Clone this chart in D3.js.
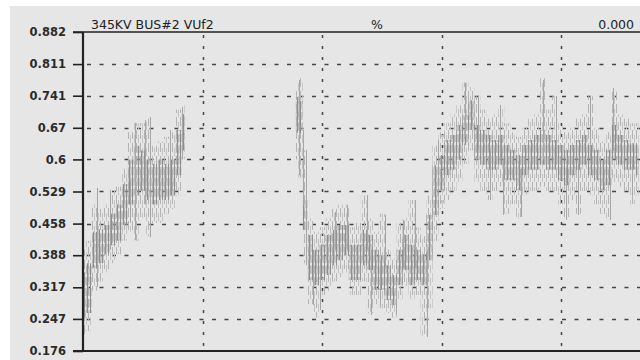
<!DOCTYPE html>
<html>
<head>
<meta charset="utf-8">
<script src="https://cdn.jsdelivr.net/npm/d3@7"></script>
<style>
  html, body { margin: 0; padding: 0; background: #ffffff; }
  svg { display: block; }
</style>
</head>
<body>
<svg id="chart" width="640" height="360"></svg>
<script>
// Recorder trace: 345KV BUS#2 VUf2 (%), sampled envelope per time bin.
// Y tick labels as printed on the recorder grid.
const yTicks = [0.176, 0.247, 0.317, 0.388, 0.458, 0.529, 0.6, 0.67, 0.741, 0.811, 0.882, 0.952];
const xGrid = [1, 2, 3, 4];

// First burst of samples (time in grid divisions)
const tA = [0, 0.05, 0.1, 0.15, 0.2, 0.25, 0.3, 0.35, 0.4, 0.45, 0.5, 0.55, 0.6, 0.65, 0.7, 0.75, 0.8, 0.85];
const coreLoA = [0.25, 0.26, 0.36, 0.37, 0.39, 0.41, 0.42, 0.455, 0.50, 0.52, 0.53, 0.51, 0.50, 0.51, 0.51, 0.52, 0.565, 0.62];
const coreHiA = [0.35, 0.37, 0.44, 0.445, 0.455, 0.48, 0.50, 0.545, 0.60, 0.63, 0.62, 0.60, 0.59, 0.60, 0.59, 0.60, 0.665, 0.70];
const outerLoA = [0.21, 0.22, 0.31, 0.33, 0.35, 0.37, 0.39, 0.42, 0.44, 0.42, 0.47, 0.43, 0.46, 0.46, 0.48, 0.49, 0.52, 0.60];
const outerHiA = [0.40, 0.42, 0.50, 0.49, 0.50, 0.53, 0.54, 0.58, 0.66, 0.68, 0.68, 0.69, 0.63, 0.64, 0.65, 0.66, 0.71, 0.72];

// Second burst of samples
const tB = [1.78, 1.82, 1.86, 1.9, 1.95, 2.0, 2.05, 2.1, 2.15, 2.2, 2.25, 2.3, 2.35, 2.4, 2.45, 2.5, 2.55, 2.6, 2.65, 2.7, 2.75,
            2.8, 2.85, 2.9, 2.95, 3.0, 3.05, 3.1, 3.15, 3.2, 3.25, 3.3, 3.35, 3.4, 3.45, 3.5, 3.55, 3.6, 3.65, 3.7, 3.75,
            3.8, 3.85, 3.9, 3.95, 4.0, 4.05, 4.1, 4.15, 4.2, 4.25, 4.3, 4.35, 4.4, 4.45, 4.5, 4.55, 4.6, 4.65];
const coreLoB = [0.659, 0.659, 0.444, 0.333, 0.322, 0.333, 0.344, 0.366, 0.377, 0.388, 0.333, 0.333, 0.366, 0.355, 0.311, 0.311, 0.289, 0.278, 0.322, 0.355, 0.322,
                 0.333, 0.322, 0.377, 0.477, 0.532, 0.565, 0.577, 0.599, 0.632, 0.665, 0.599, 0.588, 0.577, 0.577, 0.588, 0.554, 0.554, 0.532, 0.565, 0.577,
                 0.577, 0.588, 0.577, 0.577, 0.554, 0.543, 0.565, 0.577, 0.588, 0.565, 0.554, 0.532, 0.543, 0.599, 0.588, 0.577, 0.577, 0.565];
const coreHiB = [0.738, 0.730, 0.510, 0.433, 0.400, 0.411, 0.433, 0.444, 0.455, 0.455, 0.411, 0.411, 0.444, 0.433, 0.400, 0.388, 0.366, 0.344, 0.400, 0.433, 0.411,
                 0.400, 0.390, 0.477, 0.587, 0.610, 0.643, 0.654, 0.676, 0.698, 0.731, 0.676, 0.665, 0.654, 0.643, 0.654, 0.632, 0.621, 0.610, 0.632, 0.643,
                 0.654, 0.665, 0.654, 0.643, 0.632, 0.621, 0.632, 0.643, 0.654, 0.632, 0.621, 0.599, 0.621, 0.676, 0.654, 0.643, 0.636, 0.636];
const outerLoB = [0.60, 0.56, 0.37, 0.28, 0.25, 0.30, 0.31, 0.33, 0.34, 0.35, 0.30, 0.30, 0.33, 0.26, 0.28, 0.27, 0.26, 0.25, 0.29, 0.32, 0.29,
                  0.30, 0.21, 0.27, 0.42, 0.49, 0.51, 0.53, 0.55, 0.59, 0.62, 0.55, 0.53, 0.51, 0.53, 0.54, 0.48, 0.50, 0.47, 0.52, 0.53,
                  0.53, 0.54, 0.53, 0.53, 0.50, 0.47, 0.51, 0.48, 0.53, 0.52, 0.50, 0.48, 0.47, 0.55, 0.54, 0.53, 0.50, 0.52];
const outerHiB = [0.76, 0.78, 0.62, 0.47, 0.44, 0.45, 0.47, 0.49, 0.50, 0.50, 0.45, 0.46, 0.52, 0.47, 0.44, 0.48, 0.40, 0.38, 0.46, 0.47, 0.51,
                  0.45, 0.43, 0.52, 0.63, 0.66, 0.68, 0.70, 0.72, 0.77, 0.76, 0.74, 0.71, 0.69, 0.70, 0.72, 0.68, 0.66, 0.65, 0.67, 0.69,
                  0.70, 0.78, 0.71, 0.74, 0.68, 0.66, 0.67, 0.69, 0.70, 0.74, 0.67, 0.64, 0.66, 0.75, 0.70, 0.69, 0.68, 0.68];

// Isolated excursions: time, low, high
const spikeT  = [0.117, 0.226, 0.393, 0.435, 0.519, 0.561, 0.728, 0.828,
                 1.808, 1.841, 1.866, 1.925, 1.983, 2.109, 2.209, 2.377, 2.41, 2.485, 2.527, 2.619, 2.678, 2.778, 2.879, 2.971,
                 3.197, 3.305, 3.406, 3.49, 3.515, 3.665, 3.849, 3.958, 4.042, 4.142, 4.243, 4.41, 4.435, 4.594];
const spikeLo = [0.318, 0.40, 0.46, 0.422, 0.50, 0.428, 0.52, 0.60,
                 0.565, 0.499, 0.366, 0.278, 0.267, 0.40, 0.40, 0.40, 0.256, 0.278, 0.36, 0.256, 0.36, 0.36, 0.207, 0.52,
                 0.65, 0.62, 0.51, 0.60, 0.477, 0.473, 0.60, 0.60, 0.466, 0.477, 0.60, 0.466, 0.62, 0.52];
const spikeHi = [0.537, 0.532, 0.554, 0.681, 0.687, 0.694, 0.665, 0.716,
                 0.776, 0.665, 0.621, 0.40, 0.38, 0.484, 0.499, 0.521, 0.40, 0.36, 0.477, 0.33, 0.466, 0.51, 0.40, 0.643,
                 0.77, 0.742, 0.62, 0.72, 0.60, 0.58, 0.776, 0.74, 0.58, 0.59, 0.74, 0.56, 0.758, 0.60];

const svg = d3.select("#chart");
const W = 640, H = 360;
const plot = { left: 83, right: 640, top: 32, bottom: 351 };

const x = d3.scaleLinear().domain([0, 4.661]).range([plot.left, plot.right]);
const y = d3.scaleLinear().domain([0.176, 0.882]).range([plot.bottom, plot.top]);

// Paper background
svg.append("rect").attr("width", W).attr("height", H).attr("fill", "#ffffff");
svg.append("rect").attr("x", 10).attr("y", 6).attr("width", W - 10).attr("height", H - 6).attr("fill", "#e6e6e6");

// Hatch patterns that give the trace its pen-stroke texture
const defs = svg.append("defs");
const core = defs.append("pattern").attr("id", "coreHatch").attr("patternUnits", "userSpaceOnUse")
  .attr("width", 3).attr("height", 11);
core.append("rect").attr("x", 0).attr("y", 0).attr("width", 1).attr("height", 11).attr("fill", "#8e8e8e");
core.append("rect").attr("x", 1.5).attr("y", 2).attr("width", 1).attr("height", 8).attr("fill", "#a9a9a9");
const outer = defs.append("pattern").attr("id", "outerHatch").attr("patternUnits", "userSpaceOnUse")
  .attr("width", 4).attr("height", 13);
outer.append("rect").attr("x", 0).attr("y", 0).attr("width", 1).attr("height", 9).attr("fill", "#b4b4b4");
outer.append("rect").attr("x", 2).attr("y", 5).attr("width", 1).attr("height", 8).attr("fill", "#c4c4c4");

const clip = defs.append("clipPath").attr("id", "plotClip");
clip.append("rect").attr("x", plot.left).attr("y", plot.top).attr("width", plot.right - plot.left).attr("height", plot.bottom - plot.top);

// Grid: horizontal dashed rules at every tick, vertical dotted rules every division
const grid = svg.append("g");
grid.selectAll("line.h").data(yTicks.filter(v => v > 0.176 && v < 0.882)).join("line")
  .attr("x1", plot.left + 4).attr("x2", plot.right)
  .attr("y1", d => Math.round(y(d)) + 0.5).attr("y2", d => Math.round(y(d)) + 0.5)
  .attr("stroke", "#444").attr("stroke-width", 1.6).attr("stroke-dasharray", "4,8.5");
grid.selectAll("line.v").data(xGrid).join("line")
  .attr("x1", d => Math.round(x(d)) + 0.5).attr("x2", d => Math.round(x(d)) + 0.5)
  .attr("y1", plot.top + 3).attr("y2", plot.bottom)
  .attr("stroke", "#444").attr("stroke-width", 1.5).attr("stroke-dasharray", "3,8");

// Trace layers
const traceG = svg.append("g").attr("clip-path", "url(#plotClip)");
function band(ts, lo, hi) {
  return ts.map((t, i) => ({ t, lo: lo[i], hi: hi[i] }));
}
const area = d3.area().curve(d3.curveStep)
  .x(d => x(d.t)).y0(d => y(d.lo)).y1(d => y(d.hi));

[[tA, outerLoA, outerHiA], [tB, outerLoB, outerHiB]].forEach(([t, lo, hi]) => {
  traceG.append("path").datum(band(t, lo, hi)).attr("d", area).attr("fill", "url(#outerHatch)");
});
[[tA, coreLoA, coreHiA], [tB, coreLoB, coreHiB]].forEach(([t, lo, hi]) => {
  traceG.append("path").datum(band(t, lo, hi)).attr("d", area).attr("fill", "url(#coreHatch)");
});
traceG.selectAll("line.spike").data(spikeT.map((t, i) => ({ t, lo: spikeLo[i], hi: spikeHi[i] }))).join("line")
  .attr("x1", d => Math.round(x(d.t)) + 0.5).attr("x2", d => Math.round(x(d.t)) + 0.5)
  .attr("y1", d => y(d.lo)).attr("y2", d => y(d.hi))
  .attr("stroke", "#a6a6a6").attr("stroke-width", 1);

// Frame: left axis, top and bottom rules
const axisG = svg.append("g");
axisG.append("line").attr("x1", plot.left).attr("x2", plot.left).attr("y1", plot.top).attr("y2", plot.bottom)
  .attr("stroke", "#222").attr("stroke-width", 2.2);
axisG.append("line").attr("x1", plot.left - 10).attr("x2", plot.right).attr("y1", plot.top).attr("y2", plot.top)
  .attr("stroke", "#222").attr("stroke-width", 1.6);
axisG.append("line").attr("x1", plot.left - 10).attr("x2", plot.right).attr("y1", plot.bottom).attr("y2", plot.bottom)
  .attr("stroke", "#222").attr("stroke-width", 1.8);

const yAxis = d3.axisLeft(y).tickValues(yTicks).tickSize(10).tickPadding(7)
  .tickFormat(d => String(d));
const yAxisG = axisG.append("g").attr("transform", `translate(${plot.left},0)`).call(yAxis);
yAxisG.select(".domain").remove();
yAxisG.selectAll(".tick line").attr("stroke", "#222").attr("stroke-width", 1.6);
yAxisG.selectAll(".tick text")
  .attr("fill", "#2b2b2b")
  .style("font-family", "'DejaVu Sans', sans-serif")
  .style("font-size", "11.5px")
  .style("font-weight", "bold");

// Header above the frame
const header = svg.append("g").style("font-family", "'DejaVu Sans', sans-serif").style("font-size", "12.5px").attr("fill", "#222");
header.append("text").attr("x", 91).attr("y", 29).text("345KV BUS#2 VUf2");
header.append("text").attr("x", 371).attr("y", 29).text("%");
header.append("text").attr("x", 634).attr("y", 29).attr("text-anchor", "end").text("0.000");

// Paper margin over the top edge
svg.append("rect").attr("x", 0).attr("y", 0).attr("width", W).attr("height", 5).attr("fill", "#ffffff");
</script>
</body>
</html>
